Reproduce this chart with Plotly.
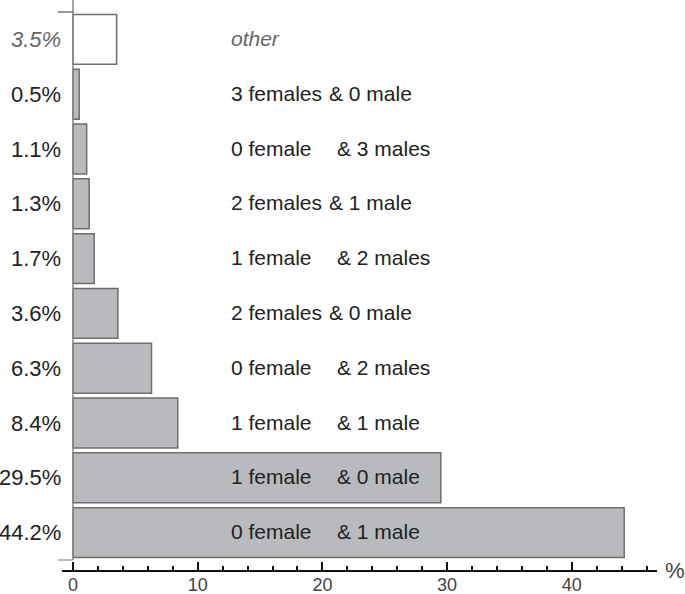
import plotly.graph_objects as go

shares = [3.5, 0.5, 1.1, 1.3, 1.7, 3.6, 6.3, 8.4, 29.5, 44.2]
share_labels = ['3.5%', '0.5%', '1.1%', '1.3%', '1.7%', '3.6%', '6.3%', '8.4%', '29.5%', '44.2%']
female_part = ['other', '3 females', '0 female', '2 females', '1 female',
               '2 females', '0 female', '1 female', '1 female', '0 female']
male_part = ['', '& 0 male', '& 3 males', '& 1 male', '& 2 males',
             '& 0 male', '& 2 males', '& 1 male', '& 0 male', '& 1 male']

FONT = 'Liberation Sans, Arial, sans-serif'
rows = list(range(len(shares)))
H_PLOT = 559  # px from top of bars to x axis line
GAP = 11      # px between bar block and x axis line

fill = ['white' if f == 'other' else '#b9babe' for f in female_part]

fig = go.Figure(go.Bar(
    x=shares, y=rows, orientation='h',
    marker=dict(color=fill, line=dict(color='#6e6e6e', width=1.5)),
    hoverinfo='x'))

annotations = []
for i in rows:
    other = female_part[i] == 'other'
    # percent label left of the axis
    annotations.append(dict(
        x=0, y=i, xref='x', yref='y', xanchor='right', xshift=-10,
        text='<i>%s</i>' % share_labels[i] if other else share_labels[i],
        showarrow=False,
        font=dict(family=FONT, size=22, color='#666' if other else '#222')))
    annotations.append(dict(
        x=12.55, y=i, xref='x', yref='y', xanchor='left', yshift=1,
        text='<i>%s</i>' % female_part[i] if other else female_part[i],
        showarrow=False,
        font=dict(family=FONT, size=21, color='#666' if other else '#222')))
    if male_part[i]:
        annotations.append(dict(
            x=20.35 if female_part[i].endswith('s') else 21.0, y=i,
            xref='x', yref='y', xanchor='left', yshift=1,
            text=male_part[i], showarrow=False,
            font=dict(family=FONT, size=21, color='#222')))

# unit sign at the end of the x axis
annotations.append(dict(x=1, y=0, xref='paper', yref='paper', xanchor='left',
                        yanchor='middle', xshift=6, yshift=1, text='%', showarrow=False,
                        font=dict(family=FONT, size=22, color='#444')))

shapes = [
    dict(type='line', xref='x', yref='paper', x0=0, x1=0,
         y0=GAP / H_PLOT, y1=1 + 12 / H_PLOT,
         line=dict(color='#888', width=1.5)),
    dict(type='line', xref='paper', yref='paper', x0=-0.007, x1=0.018, y0=1, y1=1,
         line=dict(color='#333', width=1)),
    dict(type='line', xref='paper', yref='paper', x0=-0.007, x1=0.018,
         y0=GAP / H_PLOT, y1=GAP / H_PLOT, line=dict(color='#777', width=1)),
]

fig.update_layout(
    width=685, height=594,
    margin=dict(l=62, r=28, t=12, b=594 - 12 - H_PLOT),
    paper_bgcolor='white', plot_bgcolor='white',
    showlegend=False, bargap=0.09,
    annotations=annotations, shapes=shapes,
    xaxis=dict(range=[-0.88, 46.83], anchor='free', position=0, automargin=False,
               showline=True, linecolor='#111', linewidth=2,
               showgrid=False, zeroline=False,
               ticks='inside', ticklen=8, tickwidth=2, tickcolor='#111',
               dtick=10, tick0=0, ticklabelstandoff=-3,
               minor=dict(dtick=2, ticks='inside', ticklen=4, tickwidth=1.5,
                          tickcolor='#111', showgrid=False),
               tickfont=dict(family=FONT, size=18, color='#444')),
    yaxis=dict(domain=[GAP / H_PLOT, 1], range=[len(shares) - 0.5, -0.5],
               automargin=False,
               showticklabels=False, showgrid=False, zeroline=False,
               showline=False, ticks=''),
)

fig.write_html('out.html', config={'displayModeBar': False},
               post_script="document.body.style.margin='0';")
